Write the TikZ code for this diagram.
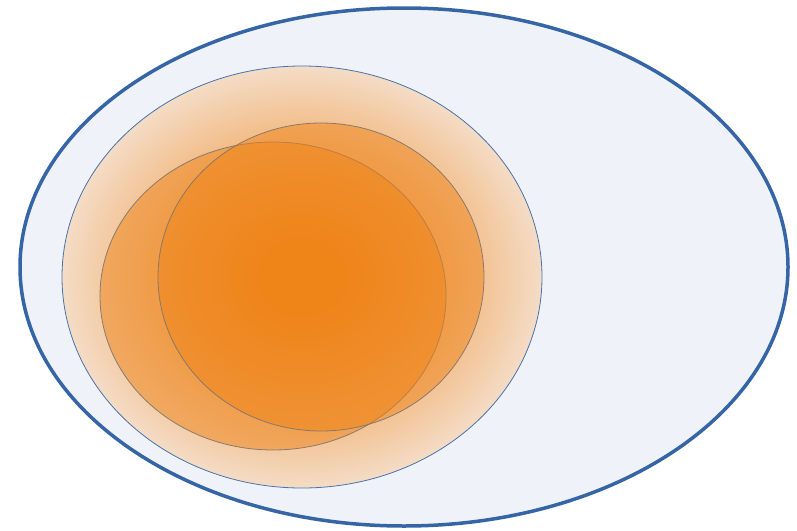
\documentclass[tikz,border=0pt]{standalone}
\definecolor{bigfill}{HTML}{EFF3F9}
\definecolor{bigline}{HTML}{3565A5}
\definecolor{midline}{HTML}{4A72AC}
\definecolor{orng}{HTML}{EF8418}
\definecolor{pale}{HTML}{F4DCC6}
\definecolor{circline}{HTML}{7E746E}
\pgfdeclareradialshading{midshade}{\pgfpoint{0bp}{0bp}}{%
  color(0bp)=(orng); color(3bp)=(orng); color(25bp)=(pale); color(50bp)=(pale)}
\tikzset{
  outerell/.style={fill=bigfill, draw=bigline, line width=3.5pt},
  midell/.style={shading=midshade, draw=midline, line width=0.8pt},
  circ/.style={fill=orng, fill opacity=0.5, draw=circline, draw opacity=0.9, line width=0.8pt}
}
\begin{document}
\begin{tikzpicture}[x=1pt,y=-1pt]
\useasboundingbox (0,0) rectangle (797,530);
\path[outerell] (404,267) ellipse [x radius=384, y radius=259];
\path[midell] (302,277) ellipse [x radius=240, y radius=211];
\path[circ] (273,296) ellipse [x radius=173, y radius=154];
\path[circ] (321,277) ellipse [x radius=163, y radius=154];
\end{tikzpicture}
\end{document}
